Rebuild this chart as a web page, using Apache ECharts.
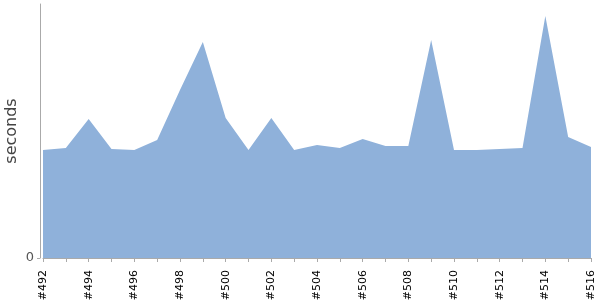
<!DOCTYPE html>
<html><head><meta charset="utf-8">
<script src="https://cdn.jsdelivr.net/npm/echarts@6/dist/echarts.min.js"></script>
<style>html,body{margin:0;padding:0;background:#fff}#c{width:600px;height:300px}</style>
</head><body><div id="c"></div>
<script>
const categories = ['#492','#493','#494','#495','#496','#497','#498','#499','#500','#501','#502','#503','#504','#505','#506','#507','#508','#509','#510','#511','#512','#513','#514','#515','#516'];
const seconds = [1.08,1.10,1.39,1.09,1.08,1.18,1.68,2.16,1.40,1.08,1.40,1.08,1.13,1.10,1.19,1.12,1.12,2.18,1.08,1.08,1.09,1.10,2.42,1.21,1.11];
const yMax = 2.54;
const yTicks = [0];

const chart = echarts.init(document.getElementById('c'));
chart.setOption({
  animation: false,
  grid: {left: 43, right: 9, top: 4, bottom: 42, containLabel: false, outerBoundsMode: 'none'},
  xAxis: {
    type: 'category', data: categories, boundaryGap: false, offset: 5,
    axisLine: {lineStyle: {color: '#aaa'}},
    axisTick: {show: true, length: 4, lineStyle: {color: '#aaa'}, interval: 0},
    axisLabel: {rotate: 90, interval: 1, color: '#000', fontSize: 11, fontFamily: 'DejaVu Sans', margin: 7}
  },
  yAxis: {
    type: 'value', min: 0, max: yMax, offset: 3,
    name: 'seconds', nameLocation: 'middle', nameGap: 20, nameMoveOverlap: false,
    nameTextStyle: {color: '#444', fontSize: 16, fontFamily: 'DejaVu Sans'},
    axisLine: {show: true, lineStyle: {color: '#aaa'}},
    axisTick: {show: true, length: 3, lineStyle: {color: '#aaa'}, customValues: yTicks},
    axisLabel: {color: '#555', fontSize: 13, fontFamily: 'DejaVu Sans', customValues: yTicks, margin: 6},
    splitLine: {show: false}
  },
  series: [{
    type: 'line', data: seconds, symbol: 'none',
    lineStyle: {width: 0},
    areaStyle: {color: '#8fb1da', opacity: 1}
  }]
});
</script></body></html>
